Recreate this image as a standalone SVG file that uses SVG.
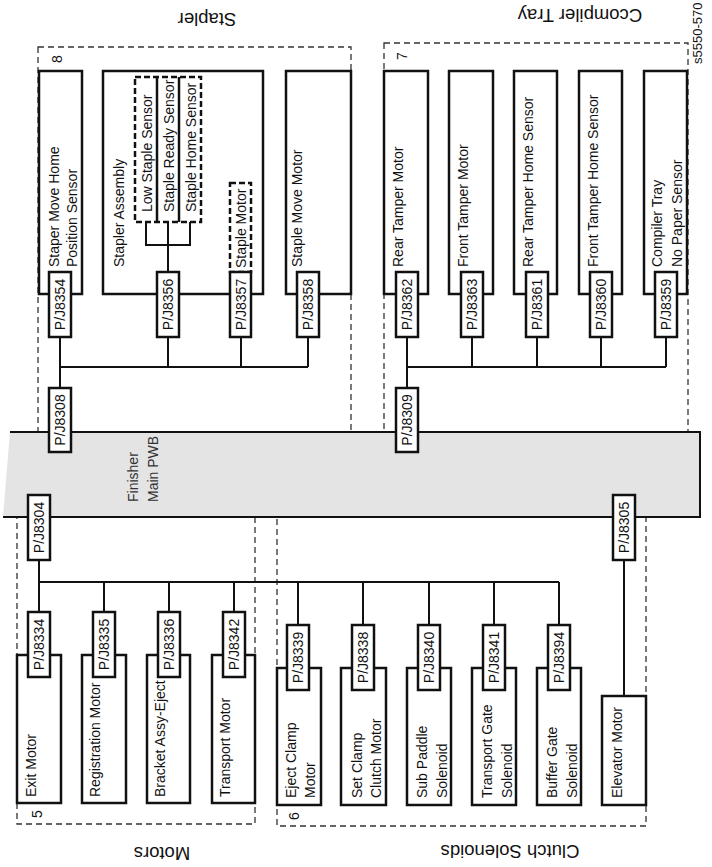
<svg xmlns="http://www.w3.org/2000/svg" width="712" height="867" viewBox="0 0 712 867">
<style>
text{font-family:"Liberation Sans",Arial,sans-serif;font-size:14px;fill:#111}
.t{font-size:18.5px;text-anchor:middle}
.m{text-anchor:middle}
.grp{fill:none;stroke:#333;stroke-width:1.3;stroke-dasharray:6 4}
.dev{fill:#fff;stroke:#111;stroke-width:2.5}
.pj{fill:#fff;stroke:#111;stroke-width:2.5}
.sd{fill:none;stroke:#111;stroke-width:2.5;stroke-dasharray:6 3}
.w{fill:none;stroke:#111;stroke-width:2}
</style>

<!-- group frames -->
<g id="frames">
<rect class="grp" x="38" y="47" width="313" height="405"/>
<rect class="grp" x="384" y="43" width="304" height="409"/>
<rect class="grp" x="17" y="495" width="238" height="329"/>
<rect class="grp" x="277" y="495" width="369" height="331"/>
<text class="t" transform="translate(207,13) rotate(180)">Stapler</text>
<text class="t" transform="translate(580,9) rotate(180)">Ccompiler Tray</text>
<text class="t" transform="translate(162,847) rotate(180)">Motors</text>
<text class="t" transform="translate(510,845) rotate(180)">Clutch Solenoids</text>
<text transform="translate(62,63) rotate(-90)">8</text>
<text transform="translate(407,60) rotate(-90)">7</text>
<text transform="translate(42,818) rotate(-90)">5</text>
<text transform="translate(299,820) rotate(-90)">6</text>
<text style="font-size:13px" transform="translate(702,64) rotate(-90)">s5550-570</text>
</g>

<!-- main PWB -->
<g id="pwb">
<polygon points="10,432 700,432 700,517 3,517" fill="#e4e4e4"/>
<polyline points="10,432 700,432 700,517 3,517" fill="none" stroke="#111" stroke-width="2"/>
<text style="fill:#333" transform="translate(138,502) rotate(-90)">Finisher</text>
<text style="fill:#333" transform="translate(158,502) rotate(-90)">Main PWB</text>
</g>

<!-- device nodes -->
<g id="staper-move-home">
<rect class="dev" x="39" y="71" width="43" height="223"/>
<text transform="translate(59,267) rotate(-90)">Staper Move Home</text>
<text transform="translate(77,267) rotate(-90)">Position Sensor</text>
</g>
<g id="stapler-assembly">
<rect class="dev" x="103" y="71" width="160" height="223"/>
<text transform="translate(124,267) rotate(-90)">Stapler Assembly</text>
<rect class="sd" x="135" y="77" width="66" height="145"/>
<line x1="157" y1="77" x2="157" y2="222" stroke="#111" stroke-width="2.5"/>
<line x1="179" y1="77" x2="179" y2="222" stroke="#111" stroke-width="2.5"/>
<text transform="translate(152,212) rotate(-90)">Low Staple Sensor</text>
<text transform="translate(174,212) rotate(-90)">Staple Ready Sensor</text>
<text transform="translate(196,212) rotate(-90)">Staple Home Sensor</text>
<rect class="sd" x="230" y="183" width="21" height="89"/>
<text transform="translate(246,268) rotate(-90)">Staple Motor</text>
</g>
<g id="staple-move-motor">
<rect class="dev" x="286" y="71" width="65" height="223"/>
<text transform="translate(302,267) rotate(-90)">Staple Move Motor</text>
</g>

<g id="rear-tamper-motor">
<rect class="dev" x="384" y="71" width="44" height="223"/>
<text transform="translate(403,267) rotate(-90)">Rear Tamper Motor</text>
</g>
<g id="front-tamper-motor">
<rect class="dev" x="449" y="71" width="44" height="223"/>
<text transform="translate(468,267) rotate(-90)">Front Tamper Motor</text>
</g>
<g id="rear-tamper-home-sensor">
<rect class="dev" x="514" y="71" width="43" height="223"/>
<text transform="translate(533,267) rotate(-90)">Rear Tamper Home Sensor</text>
</g>
<g id="front-tamper-home-sensor">
<rect class="dev" x="579" y="71" width="43" height="223"/>
<text transform="translate(598,267) rotate(-90)">Front Tamper Home Sensor</text>
</g>
<g id="compiler-tray-sensor">
<rect class="dev" x="644" y="71" width="43" height="223"/>
<text transform="translate(662,267) rotate(-90)">Compiler Tray</text>
<text transform="translate(682,267) rotate(-90)">No Paper Sensor</text>
</g>

<g id="exit-motor">
<rect class="dev" x="17" y="655" width="44" height="148"/>
<text transform="translate(36,797) rotate(-90)">Exit Motor</text>
</g>
<g id="registration-motor">
<rect class="dev" x="82" y="655" width="44" height="148"/>
<text transform="translate(100,797) rotate(-90)">Registration Motor</text>
</g>
<g id="bracket-assy-eject">
<rect class="dev" x="147" y="655" width="43" height="148"/>
<text transform="translate(165,797) rotate(-90)">Bracket Assy-Eject</text>
</g>
<g id="transport-motor">
<rect class="dev" x="212" y="655" width="43" height="148"/>
<text transform="translate(230,797) rotate(-90)">Transport Motor</text>
</g>

<g id="eject-clamp-motor">
<rect class="dev" x="277" y="668" width="44" height="137"/>
<text transform="translate(296,798) rotate(-90)">Eject Clamp</text>
<text transform="translate(315,798) rotate(-90)">Motor</text>
</g>
<g id="set-clamp-clutch-motor">
<rect class="dev" x="341" y="668" width="45" height="137"/>
<text transform="translate(362,798) rotate(-90)">Set Clamp</text>
<text transform="translate(381,798) rotate(-90)">Clutch Motor</text>
</g>
<g id="sub-paddle-solenoid">
<rect class="dev" x="407" y="668" width="44" height="137"/>
<text transform="translate(427,798) rotate(-90)">Sub Paddle</text>
<text transform="translate(447,798) rotate(-90)">Solenoid</text>
</g>
<g id="transport-gate-solenoid">
<rect class="dev" x="472" y="668" width="44" height="137"/>
<text transform="translate(492,798) rotate(-90)">Transport Gate</text>
<text transform="translate(512,798) rotate(-90)">Solenoid</text>
</g>
<g id="buffer-gate-solenoid">
<rect class="dev" x="537" y="668" width="44" height="137"/>
<text transform="translate(557,798) rotate(-90)">Buffer Gate</text>
<text transform="translate(577,798) rotate(-90)">Solenoid</text>
</g>
<g id="elevator-motor">
<rect class="dev" x="602" y="696" width="44" height="109"/>
<text transform="translate(622,798) rotate(-90)">Elevator Motor</text>
</g>

<!-- connectors (wires) -->
<g id="wires" class="w">
<path class="w" d="M60 337V388M60 367H308M168 337V367M241 337V367M308 337V367"/>
<path class="w" d="M168 272V222M146 222V245H190V222"/>
<path class="w" d="M407 337V388M407 367H666M472 337V367M537 337V367M601 337V367M666 337V367"/>
<path class="w" d="M39 560V612M39 582H559M104 582V612M169 582V612M234 582V612M298 582V625M363 582V625M429 582V625M494 582V625M559 582V625"/>
<path class="w" d="M624 560V696"/>
</g>

<!-- plug/jack nodes -->
<g id="pj8354"><rect class="pj" x="49" y="272" width="22" height="65"/><text class="m" transform="translate(65,304.5) rotate(-90)">P/J8354</text></g>
<g id="pj8356"><rect class="pj" x="157" y="272" width="22" height="65"/><text class="m" transform="translate(173,304.5) rotate(-90)">P/J8356</text></g>
<g id="pj8357"><rect class="pj" x="230" y="272" width="21" height="65"/><text class="m" transform="translate(245.5,304.5) rotate(-90)">P/J8357</text></g>
<g id="pj8358"><rect class="pj" x="297" y="272" width="22" height="65"/><text class="m" transform="translate(313,304.5) rotate(-90)">P/J8358</text></g>
<g id="pj8362"><rect class="pj" x="396" y="272" width="22" height="65"/><text class="m" transform="translate(412,304.5) rotate(-90)">P/J8362</text></g>
<g id="pj8363"><rect class="pj" x="461" y="272" width="22" height="65"/><text class="m" transform="translate(477,304.5) rotate(-90)">P/J8363</text></g>
<g id="pj8361"><rect class="pj" x="526" y="272" width="22" height="65"/><text class="m" transform="translate(542,304.5) rotate(-90)">P/J8361</text></g>
<g id="pj8360"><rect class="pj" x="590" y="272" width="22" height="65"/><text class="m" transform="translate(606,304.5) rotate(-90)">P/J8360</text></g>
<g id="pj8359"><rect class="pj" x="655" y="272" width="22" height="65"/><text class="m" transform="translate(671,304.5) rotate(-90)">P/J8359</text></g>
<g id="pj8308"><rect class="pj" x="49" y="388" width="22" height="64"/><text class="m" transform="translate(65,420) rotate(-90)">P/J8308</text></g>
<g id="pj8309"><rect class="pj" x="396" y="388" width="22" height="64"/><text class="m" transform="translate(412,420) rotate(-90)">P/J8309</text></g>
<g id="pj8304"><rect class="pj" x="28" y="495" width="22" height="65"/><text class="m" transform="translate(44,527.5) rotate(-90)">P/J8304</text></g>
<g id="pj8305"><rect class="pj" x="613" y="495" width="22" height="65"/><text class="m" transform="translate(629,527.5) rotate(-90)">P/J8305</text></g>
<g id="pj8334"><rect class="pj" x="28" y="612" width="22" height="65"/><text class="m" transform="translate(44,644.5) rotate(-90)">P/J8334</text></g>
<g id="pj8335"><rect class="pj" x="93" y="612" width="22" height="65"/><text class="m" transform="translate(109,644.5) rotate(-90)">P/J8335</text></g>
<g id="pj8336"><rect class="pj" x="158" y="612" width="22" height="65"/><text class="m" transform="translate(174,644.5) rotate(-90)">P/J8336</text></g>
<g id="pj8342"><rect class="pj" x="223" y="612" width="22" height="65"/><text class="m" transform="translate(239,644.5) rotate(-90)">P/J8342</text></g>
<g id="pj8339"><rect class="pj" x="287" y="625" width="22" height="65"/><text class="m" transform="translate(303,657.5) rotate(-90)">P/J8339</text></g>
<g id="pj8338"><rect class="pj" x="352" y="625" width="22" height="65"/><text class="m" transform="translate(368,657.5) rotate(-90)">P/J8338</text></g>
<g id="pj8340"><rect class="pj" x="418" y="625" width="22" height="65"/><text class="m" transform="translate(434,657.5) rotate(-90)">P/J8340</text></g>
<g id="pj8341"><rect class="pj" x="483" y="625" width="22" height="65"/><text class="m" transform="translate(499,657.5) rotate(-90)">P/J8341</text></g>
<g id="pj8394"><rect class="pj" x="548" y="625" width="22" height="65"/><text class="m" transform="translate(564,657.5) rotate(-90)">P/J8394</text></g>
</svg>
